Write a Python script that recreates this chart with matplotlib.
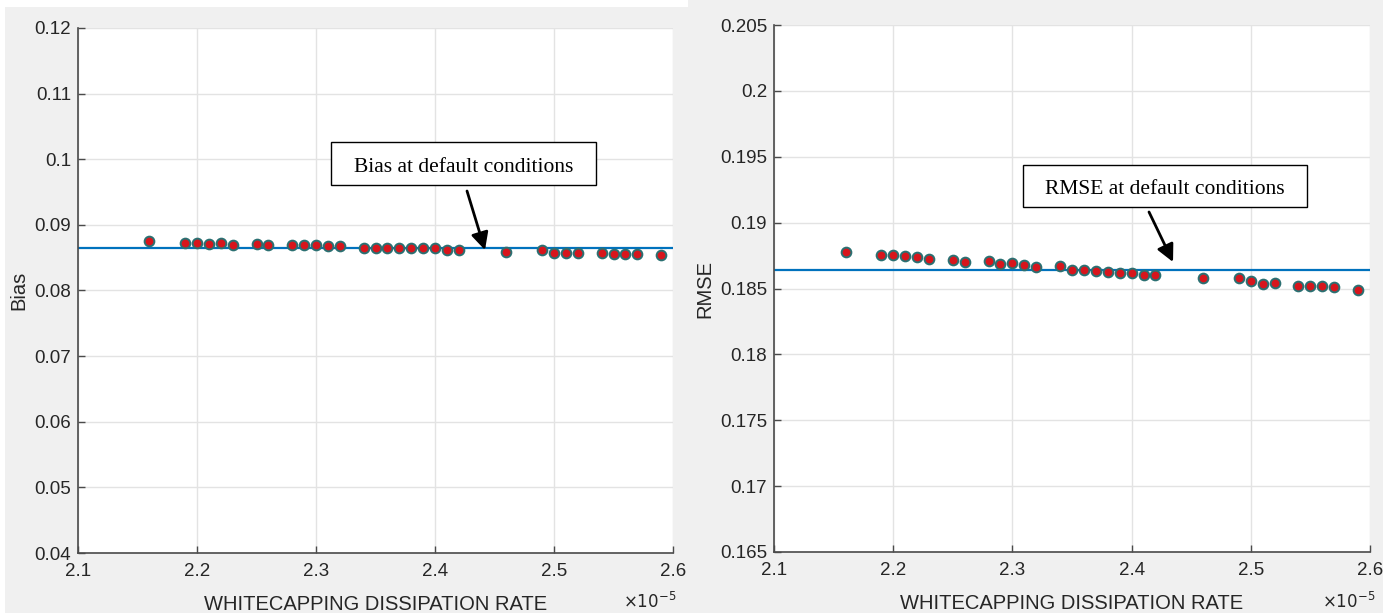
import matplotlib
matplotlib.use("Agg")
import matplotlib.pyplot as plt
from matplotlib.patches import Rectangle

# ---------------- data ----------------
x_rate = [2.16, 2.19, 2.20, 2.21, 2.22, 2.23, 2.25, 2.26, 2.28, 2.29, 2.30,
          2.31, 2.32, 2.34, 2.35, 2.36, 2.37, 2.38, 2.39, 2.40, 2.41, 2.42,
          2.46, 2.49, 2.50, 2.51, 2.52, 2.54, 2.55, 2.56, 2.57, 2.59]

bias = [0.0875, 0.0873, 0.0873, 0.08715, 0.0872, 0.0870, 0.08705, 0.0869,
        0.0869, 0.08695, 0.08695, 0.08675, 0.0868, 0.08655, 0.08655, 0.0864,
        0.0864, 0.0864, 0.0864, 0.0864, 0.0861, 0.08615, 0.0859, 0.0862,
        0.0857, 0.08565, 0.0857, 0.08565, 0.0855, 0.0855, 0.0855, 0.08535]

rmse = [0.18774, 0.18754, 0.18756, 0.18746, 0.18738, 0.18721, 0.18715,
        0.18700, 0.18708, 0.18685, 0.18692, 0.18679, 0.18662, 0.18672,
        0.18644, 0.18644, 0.18636, 0.18628, 0.18621, 0.18621, 0.18605,
        0.18605, 0.18582, 0.18579, 0.18554, 0.18536, 0.18544, 0.18518,
        0.18518, 0.18518, 0.18510, 0.18492]

bias_default = 0.08645
rmse_default = 0.18644

x_ticks = [2.1, 2.2, 2.3, 2.4, 2.5, 2.6]
x_tick_labels = ["2.1", "2.2", "2.3", "2.4", "2.5", "2.6"]
bias_ticks = [0.04, 0.05, 0.06, 0.07, 0.08, 0.09, 0.1, 0.11, 0.12]
bias_tick_labels = ["0.04", "0.05", "0.06", "0.07", "0.08", "0.09", "0.1", "0.11", "0.12"]
rmse_ticks = [0.165, 0.17, 0.175, 0.18, 0.185, 0.19, 0.195, 0.2, 0.205]
rmse_tick_labels = ["0.165", "0.17", "0.175", "0.18", "0.185", "0.19", "0.195", "0.2", "0.205"]

xlabel = "WHITECAPPING DISSIPATION RATE"
bias_note = "Bias at default conditions"
rmse_note = "RMSE at default conditions"

# ---------------- style ----------------
W, H = 1395, 613
fig = plt.figure(figsize=(W / 100, H / 100), dpi=100)
fig.patch.set_facecolor("white")

panel_col = "#f0f0f0"
# grey panel backgrounds (MATLAB figure windows)
fig.add_artist(Rectangle((5 / W, 0), (688 - 5) / W, (613 - 7) / H,
                         transform=fig.transFigure, facecolor=panel_col,
                         edgecolor="none", zorder=-10))
fig.add_artist(Rectangle((688 / W, 0), (1383 - 688) / W, 1.0,
                         transform=fig.transFigure, facecolor=panel_col,
                         edgecolor="none", zorder=-10))

text_col = "#262626"
axis_col = "#4a4a4a"
line_col = "#0072BD"
face_col = "#d7151c"
edge_col = "#2b7072"
sans = ["Liberation Sans", "DejaVu Sans"]
serif = ["Liberation Serif", "DejaVu Serif"]


def style_axes(ax, yticks, ylabels, ylim, ylab):
    ax.set_facecolor("white")
    ax.set_xlim(2.1, 2.6)
    ax.set_ylim(*ylim)
    ax.set_xticks(x_ticks)
    ax.set_xticklabels(x_tick_labels, family=sans, fontsize=13.5, color=text_col)
    ax.set_yticks(yticks)
    ax.set_yticklabels(ylabels, family=sans, fontsize=13.5, color=text_col)
    ax.tick_params(direction="in", length=5, width=1, color=axis_col, pad=5)
    ax.tick_params(axis="x", pad=7)
    for s in ["top", "right"]:
        ax.spines[s].set_visible(False)
    for s in ["left", "bottom"]:
        ax.spines[s].set_color(axis_col)
        ax.spines[s].set_linewidth(1.2)
    ax.grid(True, color="#e3e3e3", linewidth=1.0)
    ax.set_axisbelow(True)
    ax.set_xlabel(xlabel, family=sans, fontsize=14.5, color=text_col, labelpad=11)
    ax.set_ylabel(ylab, family=sans, fontsize=14.5, color=text_col, labelpad=4)


# ---------------- left: Bias ----------------
ax1 = fig.add_axes([78 / W, 1 - 553 / H, 595 / W, 525 / H])
style_axes(ax1, bias_ticks, bias_tick_labels, (0.04, 0.12), "Bias")
ax1.axhline(bias_default, color=line_col, linewidth=1.6, zorder=2)
ax1.plot(x_rate, bias, linestyle="none", marker="o", markersize=7,
         markerfacecolor=face_col, markeredgecolor=edge_col,
         markeredgewidth=1.4, zorder=3)
ax1.add_patch(Rectangle((0.4252, 0.701), 0.8706 - 0.4252, 0.7829 - 0.701,
                        transform=ax1.transAxes, facecolor="white",
                        edgecolor="black", linewidth=1.0, zorder=5))
ax1.text(0.648, 0.734, bias_note, transform=ax1.transAxes, ha="center",
         va="center", family=serif, fontsize=15.5, color="black", zorder=6)
ax1.annotate("", xy=(0.684, 0.5771), xytext=(0.6538, 0.6895),
             xycoords="axes fraction", textcoords="axes fraction",
             arrowprops=dict(arrowstyle="-|>", color="black", lw=2,
                             mutation_scale=26, shrinkA=0, shrinkB=0),
             zorder=6)
fig.text(623 / W, 1 - 611 / H, r"$\times10^{-5}$", family=sans, fontsize=12,
         color=text_col, ha="left", va="bottom")

# ---------------- right: RMSE ----------------
ax2 = fig.add_axes([774 / W, 1 - 552 / H, 596 / W, 527 / H])
style_axes(ax2, rmse_ticks, rmse_tick_labels, (0.165, 0.205), "RMSE")
ax2.axhline(rmse_default, color=line_col, linewidth=1.6, zorder=2)
ax2.plot(x_rate, rmse, linestyle="none", marker="o", markersize=7,
         markerfacecolor=face_col, markeredgecolor=edge_col,
         markeredgewidth=1.4, zorder=3)
ax2.add_patch(Rectangle((0.4178, 0.6546), 0.8943 - 0.4178, 0.7343 - 0.6546,
                        transform=ax2.transAxes, facecolor="white",
                        edgecolor="black", linewidth=1.0, zorder=5))
ax2.text(0.656, 0.688, rmse_note, transform=ax2.transAxes, ha="center",
         va="center", family=serif, fontsize=15.5, color="black", zorder=6)
ax2.annotate("", xy=(0.6695, 0.5503), xytext=(0.6292, 0.6452),
             xycoords="axes fraction", textcoords="axes fraction",
             arrowprops=dict(arrowstyle="-|>", color="black", lw=2,
                             mutation_scale=26, shrinkA=0, shrinkB=0),
             zorder=6)
fig.text(1322 / W, 1 - 611 / H, r"$\times10^{-5}$", family=sans, fontsize=12,
         color=text_col, ha="left", va="bottom")

fig.savefig("out.png", dpi=100, facecolor=fig.get_facecolor())
